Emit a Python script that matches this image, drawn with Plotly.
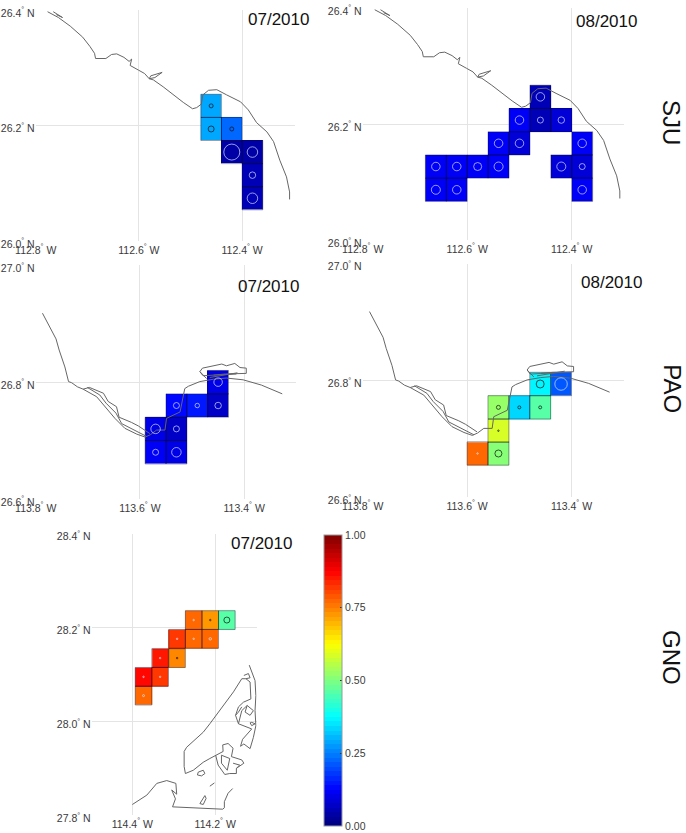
import plotly.graph_objects as go
import pandas as pd
import numpy as np

# ---------- cell data: west longitude, north latitude, value, circle diameter ----------
sju07_lon = [112.46, 112.46, 112.42, 112.42, 112.38, 112.38, 112.38]
sju07_lat = [26.234, 26.194, 26.194, 26.154, 26.154, 26.114, 26.074]
sju07_val = [0.29, 0.29, 0.23, 0.04, 0.04, 0.05, 0.05]
sju07_size = [4, 6, 4, 16, 10.5, 6.5, 10.5]

sju08_lon = [112.46, 112.50, 112.46, 112.42, 112.54, 112.50, 112.38, 112.66, 112.62, 112.58, 112.54, 112.42, 112.38, 112.66, 112.62, 112.38]
sju08_lat = [26.247, 26.207, 26.207, 26.207, 26.167, 26.167, 26.167, 26.127, 26.127, 26.127, 26.127, 26.127, 26.127, 26.087, 26.087, 26.087]
sju08_val = [0.06, 0.11, 0.06, 0.08, 0.11, 0.09, 0.11, 0.11, 0.11, 0.11, 0.11, 0.09, 0.08, 0.11, 0.11, 0.11]
sju08_size = [8.5, 8.5, 6, 6.5, 8.5, 8.5, 8.5, 8.5, 8.5, 8, 9, 9, 6, 9, 8.5, 8.5]

pao07_lon = [113.45, 113.53, 113.49, 113.45, 113.57, 113.53, 113.57, 113.53]
pao07_lat = [26.80, 26.76, 26.76, 26.76, 26.72, 26.72, 26.68, 26.68]
pao07_val = [0.10, 0.13, 0.15, 0.07, 0.10, 0.07, 0.11, 0.10]
pao07_size = [8.5, 6, 4.5, 6.5, 9.5, 6, 6, 9.5]

pao08_lon = [113.46, 113.42, 113.54, 113.50, 113.46, 113.54, 113.58, 113.54]
pao08_lat = [26.794, 26.794, 26.754, 26.754, 26.754, 26.714, 26.675, 26.675]
pao08_val = [0.37, 0.21, 0.53, 0.34, 0.46, 0.58, 0.78, 0.50]
pao08_size = [8, 12.5, 4, 3, 3, 1.5, 1.5, 7]

gno07_lon = [114.252, 114.212, 114.172, 114.292, 114.252, 114.212, 114.333, 114.292, 114.373, 114.333, 114.373]
gno07_lat = [28.216, 28.216, 28.216, 28.176, 28.176, 28.176, 28.135, 28.135, 28.095, 28.095, 28.055]
gno07_val = [0.78, 0.72, 0.46, 0.82, 0.77, 0.77, 0.85, 0.74, 0.86, 0.82, 0.77]
gno07_size = [1.5, 1.5, 6, 1.5, 1.5, 2.5, 1.5, 1.5, 1.5, 1.5, 2]

# ---------- coastlines (west longitude / north latitude), None separates segments ----------
sju_coast_lon = [112.777, 112.756, 112.733, 112.709, 112.695, 112.686, 112.684, 112.664, 112.653, 112.643, 112.629, 112.619, 112.614, 112.617, 112.601, 112.589, 112.580, 112.577, 112.555, 112.569, 112.580, 112.572, 112.553, 112.533, 112.514, 112.496, 112.488, 112.479, 112.476, 112.465, 112.449, 112.430, 112.403, 112.388, 112.372, 112.352, 112.339, 112.327, 112.314, 112.308, 112.308, None, 112.766, 112.748, 112.760]
sju_coast_lat = [26.397, 26.387, 26.372, 26.353, 26.337, 26.325, 26.316, 26.316, 26.323, 26.324, 26.318, 26.311, 26.315, 26.304, 26.296, 26.290, 26.281, 26.286, 26.292, 26.283, 26.281, 26.279, 26.267, 26.253, 26.240, 26.229, 26.231, 26.237, 26.253, 26.261, 26.262, 26.253, 26.241, 26.227, 26.205, 26.189, 26.172, 26.140, 26.111, 26.085, 26.072, None, 26.397, 26.387, 26.392]

pao_coast_lon = [113.787, 113.761, 113.755, 113.744, 113.737, 113.731, 113.720, 113.709, 113.683, 113.661, 113.648, 113.629, 113.606, 113.590, 113.580, 113.568, 113.552, 113.549, 113.523, 113.514, 113.507, 113.485, 113.459, 113.434, 113.402, 113.367, 113.327, None,
                 113.709, 113.697, 113.670, 113.661, 113.645, 113.640, 113.616, 113.603, 113.581, None,
                 113.701, 113.677, 113.665, 113.646, 113.635, 113.600, 113.587, None,
                 113.472, 113.485, 113.480, 113.456, 113.443, 113.434, 113.418, 113.408, 113.396, 113.396, 113.413, 113.436, 113.459, 113.479, 113.485, None,
                 113.466, 113.413, None, 113.459, 113.415]
pao_coast_lat = [26.918, 26.874, 26.855, 26.826, 26.801, 26.799, 26.792, 26.788, 26.775, 26.752, 26.738, 26.721, 26.711, 26.706, 26.710, 26.718, 26.718, 26.738, 26.749, 26.789, 26.793, 26.801, 26.805, 26.807, 26.804, 26.795, 26.780, None,
                 26.788, 26.791, 26.781, 26.767, 26.758, 26.740, 26.731, 26.725, 26.712, None,
                 26.791, 26.778, 26.764, 26.747, 26.729, 26.712, 26.707, None,
                 26.806, 26.818, 26.824, 26.828, 26.831, 26.828, 26.832, 26.825, 26.824, 26.815, 26.815, 26.814, 26.812, 26.811, 26.818, None,
                 26.808, 26.816, None, 26.812, 26.814]

gno_coast_lon = [114.118, 114.112, 114.104, 114.102, 114.104, 114.102, 114.108, 114.116, 114.131, 114.139, 114.134, 114.112, 114.144, 114.151, 114.144, 114.132, 114.114, 114.116, 114.126, 114.136, 114.156, 114.213, 114.229, 114.269, 114.275, 114.275, 114.272, 114.253, 114.229, 114.213, 114.199, 114.181, 114.182, 114.169, 114.157, 114.161, 114.136, 114.131, 114.149, 114.149, 114.165, 114.177, 114.193, 114.197, 114.199, None,
                 114.131, 114.120, 114.116, 114.126, None,
                 114.144, 114.136, 114.123, 114.128, 114.116, 114.108, 114.123, None,
                 114.151, 114.144, 114.136, None,
                 114.112, 114.104, 114.112, 114.116, 114.112, None,
                 114.185, 114.165, 114.171, 114.185, 114.185, None,
                 114.157, 114.141, 114.149, None,
                 114.241, 114.229, 114.225, 114.233, 114.243, 114.241, None,
                 114.213, 114.202, None,
                 114.237, 114.225, 114.222, 114.229, 114.237, None,
                 114.400, 114.365, 114.341, 114.317, 114.295, 114.293, 114.305, 114.296, 114.303, 114.182, 114.178, 114.178, 114.169, 114.158]
gno_coast_lat = [28.120, 28.105, 28.087, 28.055, 28.023, 27.991, 27.966, 27.942, 27.952, 27.947, 27.962, 27.984, 27.995, 28.013, 28.031, 28.041, 28.048, 28.084, 28.091, 28.091, 28.063, 27.995, 27.977, 27.945, 27.936, 27.904, 27.889, 27.896, 27.913, 27.921, 27.928, 27.936, 27.950, 27.953, 27.943, 27.925, 27.918, 27.911, 27.900, 27.889, 27.889, 27.887, 27.907, 27.921, 27.928, None,
                 28.098, 28.102, 28.093, 28.091, None,
                 27.995, 28.023, 28.034, 28.020, 28.013, 28.023, 28.034, None,
                 28.013, 28.020, 28.031, None,
                 27.998, 27.995, 27.991, 27.997, 27.998, None,
                 27.928, 27.921, 27.896, 27.911, 27.928, None,
                 27.911, 27.907, 27.900, None,
                 27.892, 27.896, 27.889, 27.884, 27.886, 27.892, None,
                 27.862, 27.869, None,
                 27.825, 27.842, 27.836, 27.823, 27.825, None,
                 27.823, 27.843, 27.868, 27.874, 27.868, 27.845, 27.854, 27.835, 27.818, 27.813, 27.816, 27.829, 27.847, 27.857]

# ---------- ticks / labels ----------
colorbar_ticks = [0.0, 0.25, 0.5, 0.75, 1.0]
jet_stops = [0.0, 0.125, 0.375, 0.625, 0.875, 1.0]
jet_r = [0, 0, 0, 255, 255, 128]
jet_g = [0, 0, 255, 255, 0, 0]
jet_b = [128, 255, 255, 0, 0, 0]

# the reference colour bar is a 64-step jet map
LEVELS = 64
jet = []
for k in range(LEVELS):
    mid = (k + 0.5) / LEVELS
    c = "rgb(%d,%d,%d)" % (np.interp(mid, jet_stops, jet_r), np.interp(mid, jet_stops, jet_g), np.interp(mid, jet_stops, jet_b))
    jet += [[k / LEVELS, c], [(k + 1) / LEVELS, c]]

W, H = 686, 833
CELL = 0.04
TEXT = "#3a3a3a"
FONT = "Liberation Sans"
GRID = "#e4e4e4"
TICK_SIZE = 10.5

panels = [
    dict(lon=sju07_lon, lat=sju07_lat, val=sju07_val, size=sju07_size, cx=sju_coast_lon, cy=sju_coast_lat,
         box=(35.7, 295, 10, 241), xr=(112.8, 112.2975), yr=(26.0, 26.4),
         xt=[112.8, 112.6, 112.4], yt=[26.0, 26.2, 26.4]),
    dict(lon=sju08_lon, lat=sju08_lat, val=sju08_val, size=sju08_size, cx=sju_coast_lon, cy=sju_coast_lat,
         box=(362.7, 624, 8, 240.3), xr=(112.8, 112.3), yr=(26.0, 26.4),
         xt=[112.8, 112.6, 112.4], yt=[26.0, 26.2, 26.4]),
    dict(lon=pao07_lon, lat=pao07_lat, val=pao07_val, size=pao07_size, cx=pao_coast_lon, cy=pao_coast_lat,
         box=(35.7, 296.3, 265.3, 499), xr=(113.8, 113.3), yr=(26.6, 27.0),
         xt=[113.8, 113.6, 113.4], yt=[26.6, 26.8, 27.0]),
    dict(lon=pao08_lon, lat=pao08_lat, val=pao08_val, size=pao08_size, cx=pao_coast_lon, cy=pao_coast_lat,
         box=(362.7, 623.7, 263.7, 497.3), xr=(113.8, 113.3), yr=(26.6, 27.0),
         xt=[113.8, 113.6, 113.4], yt=[26.6, 26.8, 27.0]),
    dict(lon=gno07_lon, lat=gno07_lat, val=gno07_val, size=gno07_size, cx=gno_coast_lon, cy=gno_coast_lat,
         box=(91.7, 256.7, 533.7, 815.3), xr=(114.498, 114.1), yr=(27.8, 28.4),
         xt=[114.4, 114.2], yt=[27.8, 28.0, 28.2, 28.4]),
]

date_labels = [("07/2010", 278, 20), ("08/2010", 606, 21.7), ("07/2010", 268, 286.7),
               ("08/2010", 611.7, 282), ("07/2010", 261, 543)]
site_labels = [("SJU", 672, 122), ("PAO", 672.7, 389), ("GNO", 672, 657)]

fig = go.Figure()
layout = {}


def circle_color(v):
    return "rgba(225,232,255,0.95)" if (v < 0.22 or v > 0.75) else "#101010"


for i, p in enumerate(panels, start=1):
    sfx = "" if i == 1 else str(i)
    xa, ya = "x" + sfx, "y" + sfx
    df = pd.DataFrame({"lon": p["lon"], "lat": p["lat"], "val": p["val"]})
    grid = df.pivot(index="lat", columns="lon", values="val").sort_index()
    fig.add_trace(go.Heatmap(x=list(grid.columns), y=list(grid.index), z=grid.values.tolist(),
                             coloraxis="coloraxis", xaxis=xa, yaxis=ya, hoverongaps=False))
    ox, oy = [], []
    for lo, la in zip(p["lon"], p["lat"]):
        h = CELL / 2
        ox += [lo - h, lo + h, lo + h, lo - h, lo - h, None]
        oy += [la - h, la - h, la + h, la + h, la - h, None]
    fig.add_trace(go.Scatter(x=ox, y=oy, mode="lines", xaxis=xa, yaxis=ya,
                             line=dict(color="rgba(10,10,40,0.4)", width=1), hoverinfo="skip"))
    fig.add_trace(go.Scatter(x=p["cx"], y=p["cy"], mode="lines", xaxis=xa, yaxis=ya,
                             line=dict(color="#666666", width=1), hoverinfo="skip"))
    fig.add_trace(go.Scatter(x=p["lon"], y=p["lat"], mode="markers", xaxis=xa, yaxis=ya,
                             marker=dict(symbol="circle-open", size=p["size"],
                                         color=[circle_color(v) for v in p["val"]],
                                         line=dict(width=1))))
    l, r, t, b = p["box"]
    layout["xaxis" + sfx] = dict(domain=[l / W, r / W], range=list(p["xr"]), anchor=ya,
                                 tickmode="array", tickvals=p["xt"],
                                 ticktext=[f"{v:.1f}<sup>°</sup> W" for v in p["xt"]],
                                 showgrid=True, gridcolor=GRID, gridwidth=1, zeroline=False, automargin=False,
                                 showline=False, ticks="", ticklabelstandoff=1,
                                 tickfont=dict(family=FONT, size=TICK_SIZE, color=TEXT))
    layout["yaxis" + sfx] = dict(domain=[1 - b / H, 1 - t / H], range=list(p["yr"]), anchor=xa,
                                 tickmode="array", tickvals=p["yt"],
                                 ticktext=[f"{v:.1f}<sup>°</sup> N" for v in p["yt"]],
                                 showgrid=True, gridcolor=GRID, gridwidth=1, zeroline=False, automargin=False,
                                 showline=False, ticks="", ticklabelshift=3,
                                 tickfont=dict(family=FONT, size=TICK_SIZE, color=TEXT))

annotations = []
for text, x, y in date_labels:
    annotations.append(dict(text=text, x=x / W, y=1 - y / H, xref="paper", yref="paper", showarrow=False,
                            xanchor="center", yanchor="middle", font=dict(family=FONT, size=17, color="#111111")))
for text, x, y in site_labels:
    annotations.append(dict(text=text, x=x / W, y=1 - y / H, xref="paper", yref="paper", showarrow=False,
                            textangle=90, xanchor="center", yanchor="middle",
                            font=dict(family=FONT, size=24, color="#111111")))

fig.update_layout(
    width=W, height=H, margin=dict(l=0, r=0, t=0, b=0, autoexpand=False), paper_bgcolor="white", plot_bgcolor="white",
    showlegend=False, annotations=annotations,
    coloraxis=dict(cmin=0, cmax=1, colorscale=jet,
                   colorbar=dict(x=324 / W, xanchor="left", xpad=0, y=1 - 535 / H, yanchor="top", ypad=0,
                                 len=291 / H, lenmode="fraction", thickness=18, thicknessmode="pixels",
                                 tickmode="array", tickvals=colorbar_ticks,
                                 ticktext=[f"{v:.2f}" for v in colorbar_ticks],
                                 ticks="inside", ticklen=2, tickcolor="#333333",
                                 outlinecolor="#999999", outlinewidth=1,
                                 tickfont=dict(family=FONT, size=TICK_SIZE, color=TEXT))),
    **layout,
)

fig.write_html("out.html", config=dict(displayModeBar=False),
               post_script="document.body.style.margin='0';")
